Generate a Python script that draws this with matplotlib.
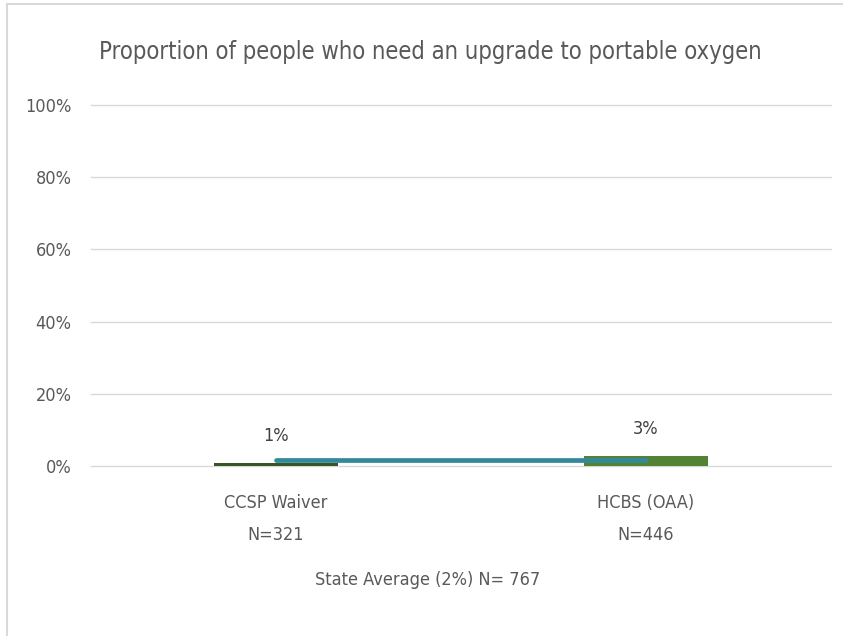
import matplotlib
matplotlib.use("Agg")
import matplotlib.pyplot as plt
from matplotlib.lines import Line2D
from matplotlib.ticker import FuncFormatter

categories = ["CCSP Waiver\nN=321", "HCBS (OAA)\nN=446"]
values = [0.75, 2.7]
value_labels = ["1%", "3%"]
state_average = [1.6, 1.6]
bar_colors = ["#375623", "#548235"]
line_color = "#31899A"
title = "Proportion of people who need an upgrade to portable oxygen"
xlabel = "State Average (2%) N= 767"
yticks = [0, 20, 40, 60, 80, 100]

plt.rcParams['font.family'] = ['DejaVu Sans']
plt.rcParams['font.stretch'] = 'condensed'

W, H = 843, 636
fig = plt.figure(figsize=(W / 100, H / 100), dpi=100)
ax = fig.add_axes([91 / W, 1 - 466 / H, (831 - 91) / W, (466 - 105) / H])

x = list(range(len(categories)))
ax.bar(x, values, width=0.333, color=bar_colors, zorder=2)
ax.plot(x, state_average, color=line_color, lw=3.4, solid_capstyle='round', zorder=3)
for xi, v, lab in zip(x, values, value_labels):
    ax.annotate(lab, (xi, v), xytext=(0, 13), textcoords='offset points',
                ha='center', va='bottom', fontsize=13, color='#404040')

ax.set_xlim(-0.5, len(categories) - 0.5)
ax.set_ylim(0, 100)
ax.set_yticks(yticks)
ax.yaxis.set_major_formatter(FuncFormatter(lambda v, p: f"{int(v)}%"))
ax.grid(axis='y', color='#D9D9D9', lw=1, zorder=0)
for gl in ax.get_ygridlines():
    gl.set_clip_on(False)
ax.set_axisbelow(True)
for s in ax.spines.values():
    s.set_visible(False)
ax.tick_params(axis='both', length=0, labelsize=13, labelcolor='#595959')
ax.tick_params(axis='y', pad=14)
ax.tick_params(axis='x', pad=20)
ax.set_xticks(x)
ax.set_xticklabels(categories, linespacing=2.0)

fig.text(428 / W, 1 - 580 / H, xlabel, ha='center', va='center', fontsize=13, color='#595959')
fig.text(430 / W, 1 - 52 / H, title, ha='center', va='center', fontsize=17.1, color='#595959')

fig.add_artist(Line2D([7 / W, 7 / W], [0, 1 - 4 / H], transform=fig.transFigure, color='#D9D9D9', lw=1.5))
fig.add_artist(Line2D([7 / W, 1], [1 - 4 / H, 1 - 4 / H], transform=fig.transFigure, color='#D9D9D9', lw=1.5))

fig.savefig("out.png", dpi=100)
